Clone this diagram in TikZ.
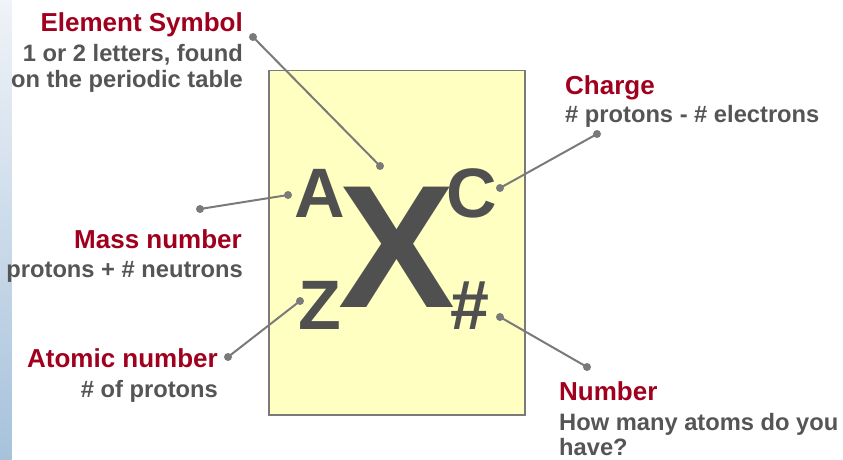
\documentclass[tikz,border=0pt]{standalone}
\usepackage{fontspec}
\setmainfont{Liberation Sans}
\definecolor{titlered}{HTML}{A0001E}
\definecolor{subgray}{HTML}{555555}
\definecolor{glyphgray}{HTML}{505050}
\definecolor{linegray}{HTML}{7A7A7A}
\definecolor{boxfill}{HTML}{FFFFC2}
\definecolor{striptop}{HTML}{F0F3F8}
\definecolor{stripbot}{HTML}{A6C2DB}
\tikzset{
  titletext/.style={inner sep=0pt, text=titlered, font=\fontsize{26}{30}\selectfont\bfseries},
  subtext/.style={inner sep=0pt, text=subgray, font=\fontsize{23.7}{27}\selectfont\bfseries},
  bigglyph/.style={inner sep=0pt, text=glyphgray, font=\fontsize{70}{70}\selectfont\bfseries, anchor=base},
  hugeglyph/.style={inner sep=0pt, text=glyphgray, font=\fontsize{175}{175}\selectfont\bfseries, anchor=base},
  pinline/.style={draw=linegray, line width=2pt},
  pindot/.style={fill=linegray}
}
\begin{document}
\begin{tikzpicture}[x=1pt,y=-1pt]
\useasboundingbox (0,0) rectangle (843,460);
\fill[white] (0,0) rectangle (843,460);
\shade[top color=striptop, bottom color=stripbot] (0,0) rectangle (11.5,460);
% box
\node[draw=linegray, line width=1.5pt, fill=boxfill, inner sep=0pt, minimum width=256pt, minimum height=344pt, anchor=north west] (box) at (268,70) {};
% glyphs
\node[hugeglyph] (X) at (397,307) {X};
\node[bigglyph] (A) at (320,217) {A};
\node[bigglyph] (C) at (472,217) {C};
\node[bigglyph] (Z) at (320,329) {Z};
\node[bigglyph] (N) at (470,329) {\#};
% labels
\node[titletext, anchor=base east] (est) at (243,32) {Element Symbol};
\node[subtext, anchor=base east] (es1) at (243,62) {1 or 2 letters, found};
\node[subtext, anchor=base east] (es2) at (243,88) {on the periodic table};
\node[titletext, anchor=base east] (mnt) at (242,248) {Mass number};
\node[subtext, anchor=base east] (mn1) at (243,277) {protons + \# neutrons};
\node[titletext, anchor=base east] (ant) at (218,367) {Atomic number};
\node[subtext, anchor=base east] (an1) at (218,397) {\# of protons};
\node[titletext, anchor=base west] (cht) at (565,95) {Charge};
\node[subtext, anchor=base west] (ch1) at (565,122) {\# protons - \# electrons};
\node[titletext, anchor=base west] (nut) at (559,400) {Number};
\node[subtext, anchor=base west] (nu1) at (559,430) {How many atoms do you};
\node[subtext, anchor=base west] (nu2) at (559,455) {have?};
% connector end points
\coordinate (esA) at (253,37);  \coordinate (esB) at (380,166);
\coordinate (mnA) at (200,209); \coordinate (mnB) at (288,195);
\coordinate (anA) at (228,357); \coordinate (anB) at (300,301);
\coordinate (chA) at (597,134); \coordinate (chB) at (500,188);
\coordinate (nuA) at (587,367); \coordinate (nuB) at (500,317);
\foreach \p in {es,mn,an,ch,nu}{
  \draw[pinline] (\p A) -- (\p B);
  \fill[pindot] (\p A) circle (4pt);
  \fill[pindot] (\p B) circle (4pt);
}
\end{tikzpicture}
\end{document}
